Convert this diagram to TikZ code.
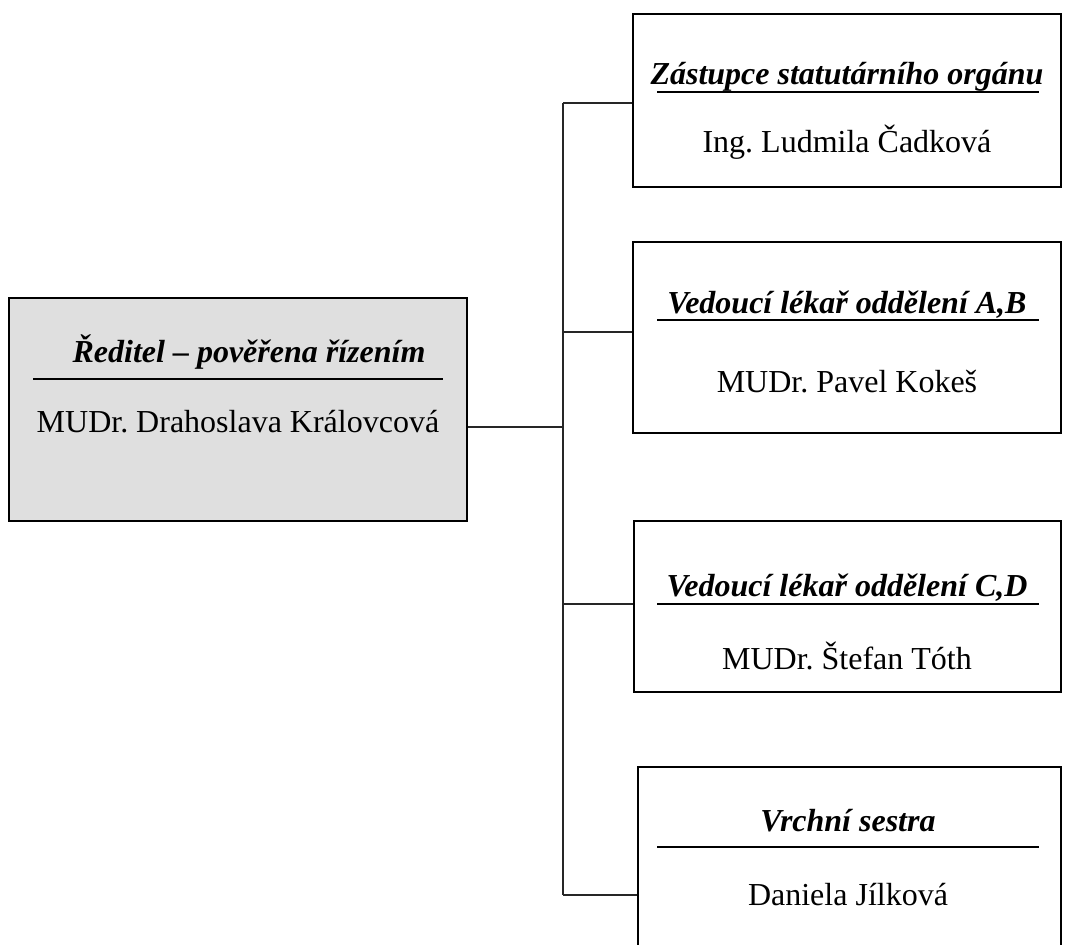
\documentclass[tikz,border=0pt]{standalone}
\usepackage{fontspec}
\setmainfont{Liberation Serif}
\usetikzlibrary{positioning,calc}
\frenchspacing

\definecolor{dirgray}{HTML}{DFDFDF}
\tikzset{
  unit/.style={draw, line width=2.8pt, inner sep=0pt},
  head/.style={anchor=base, inner sep=0pt, font=\fontsize{32}{38}\selectfont\bfseries\itshape},
  who/.style={anchor=base, inner sep=0pt, font=\fontsize{32}{38}\selectfont},
  rule/.style={line width=2pt},
  link/.style={line width=2pt, draw=black!85},
}

\begin{document}
\begin{tikzpicture}[x=1pt, y=-1pt]
  \useasboundingbox (0,0) rectangle (1066,945);
  \clip (0,0) rectangle (1066,945);
  % director
  \node[unit, fill=dirgray, minimum width=458pt, minimum height=223pt] (dir) at (238,409.5) {};
  \node[head] (dirhead) at (249,362) {Ředitel – pověřena řízením};
  \draw[rule] (33,379) -- (443,379);
  \node[who] (dirname) at (238,432) {MUDr. Drahoslava Královcová};
  % deputy
  \node[unit, minimum width=428pt, minimum height=173pt] (zast) at (847,100.5) {};
  \node[head] (zasthead) at (847,84) {Zástupce statutárního orgánu};
  \draw[rule] (657,92) -- (1039,92);
  \node[who] (zastname) at (847,152) {Ing. Ludmila Čadková};
  % ward A,B
  \node[unit, minimum width=428pt, minimum height=191pt] (ab) at (847,337.5) {};
  \node[head] (abhead) at (847,313) {Vedoucí lékař oddělení A,B};
  \draw[rule] (657,320) -- (1039,320);
  \node[who] (abname) at (847,392) {MUDr. Pavel Kokeš};
  % ward C,D
  \node[unit, minimum width=427pt, minimum height=171pt] (cd) at (847.5,606.5) {};
  \node[head] (cdhead) at (847,596) {Vedoucí lékař oddělení C,D};
  \draw[rule] (657,604) -- (1039,604);
  \node[who] (cdname) at (847,669) {MUDr. Štefan Tóth};
  % head nurse
  \node[unit, minimum width=423pt, minimum height=208pt] (sestra) at (849.5,871) {};
  \node[head] (sestrahead) at (848,831) {Vrchní sestra};
  \draw[rule] (657,847) -- (1039,847);
  \node[who] (sestraname) at (848,905) {Daniela Jílková};
  % connectors
  \coordinate (j0) at (563,427);
  \coordinate (j1) at (563,103);
  \coordinate (j2) at (563,332);
  \coordinate (j3) at (563,604);
  \coordinate (j4) at (563,895);
  \draw[link] (dir.east |- j0) -- (j0);
  \draw[link] (j1) -- (j4);
  \draw[link] (j1) -- (j1 -| zast.west);
  \draw[link] (j2) -- (j2 -| ab.west);
  \draw[link] (j3) -- (j3 -| cd.west);
  \draw[link] (j4) -- (j4 -| sestra.west);
\end{tikzpicture}
\end{document}
